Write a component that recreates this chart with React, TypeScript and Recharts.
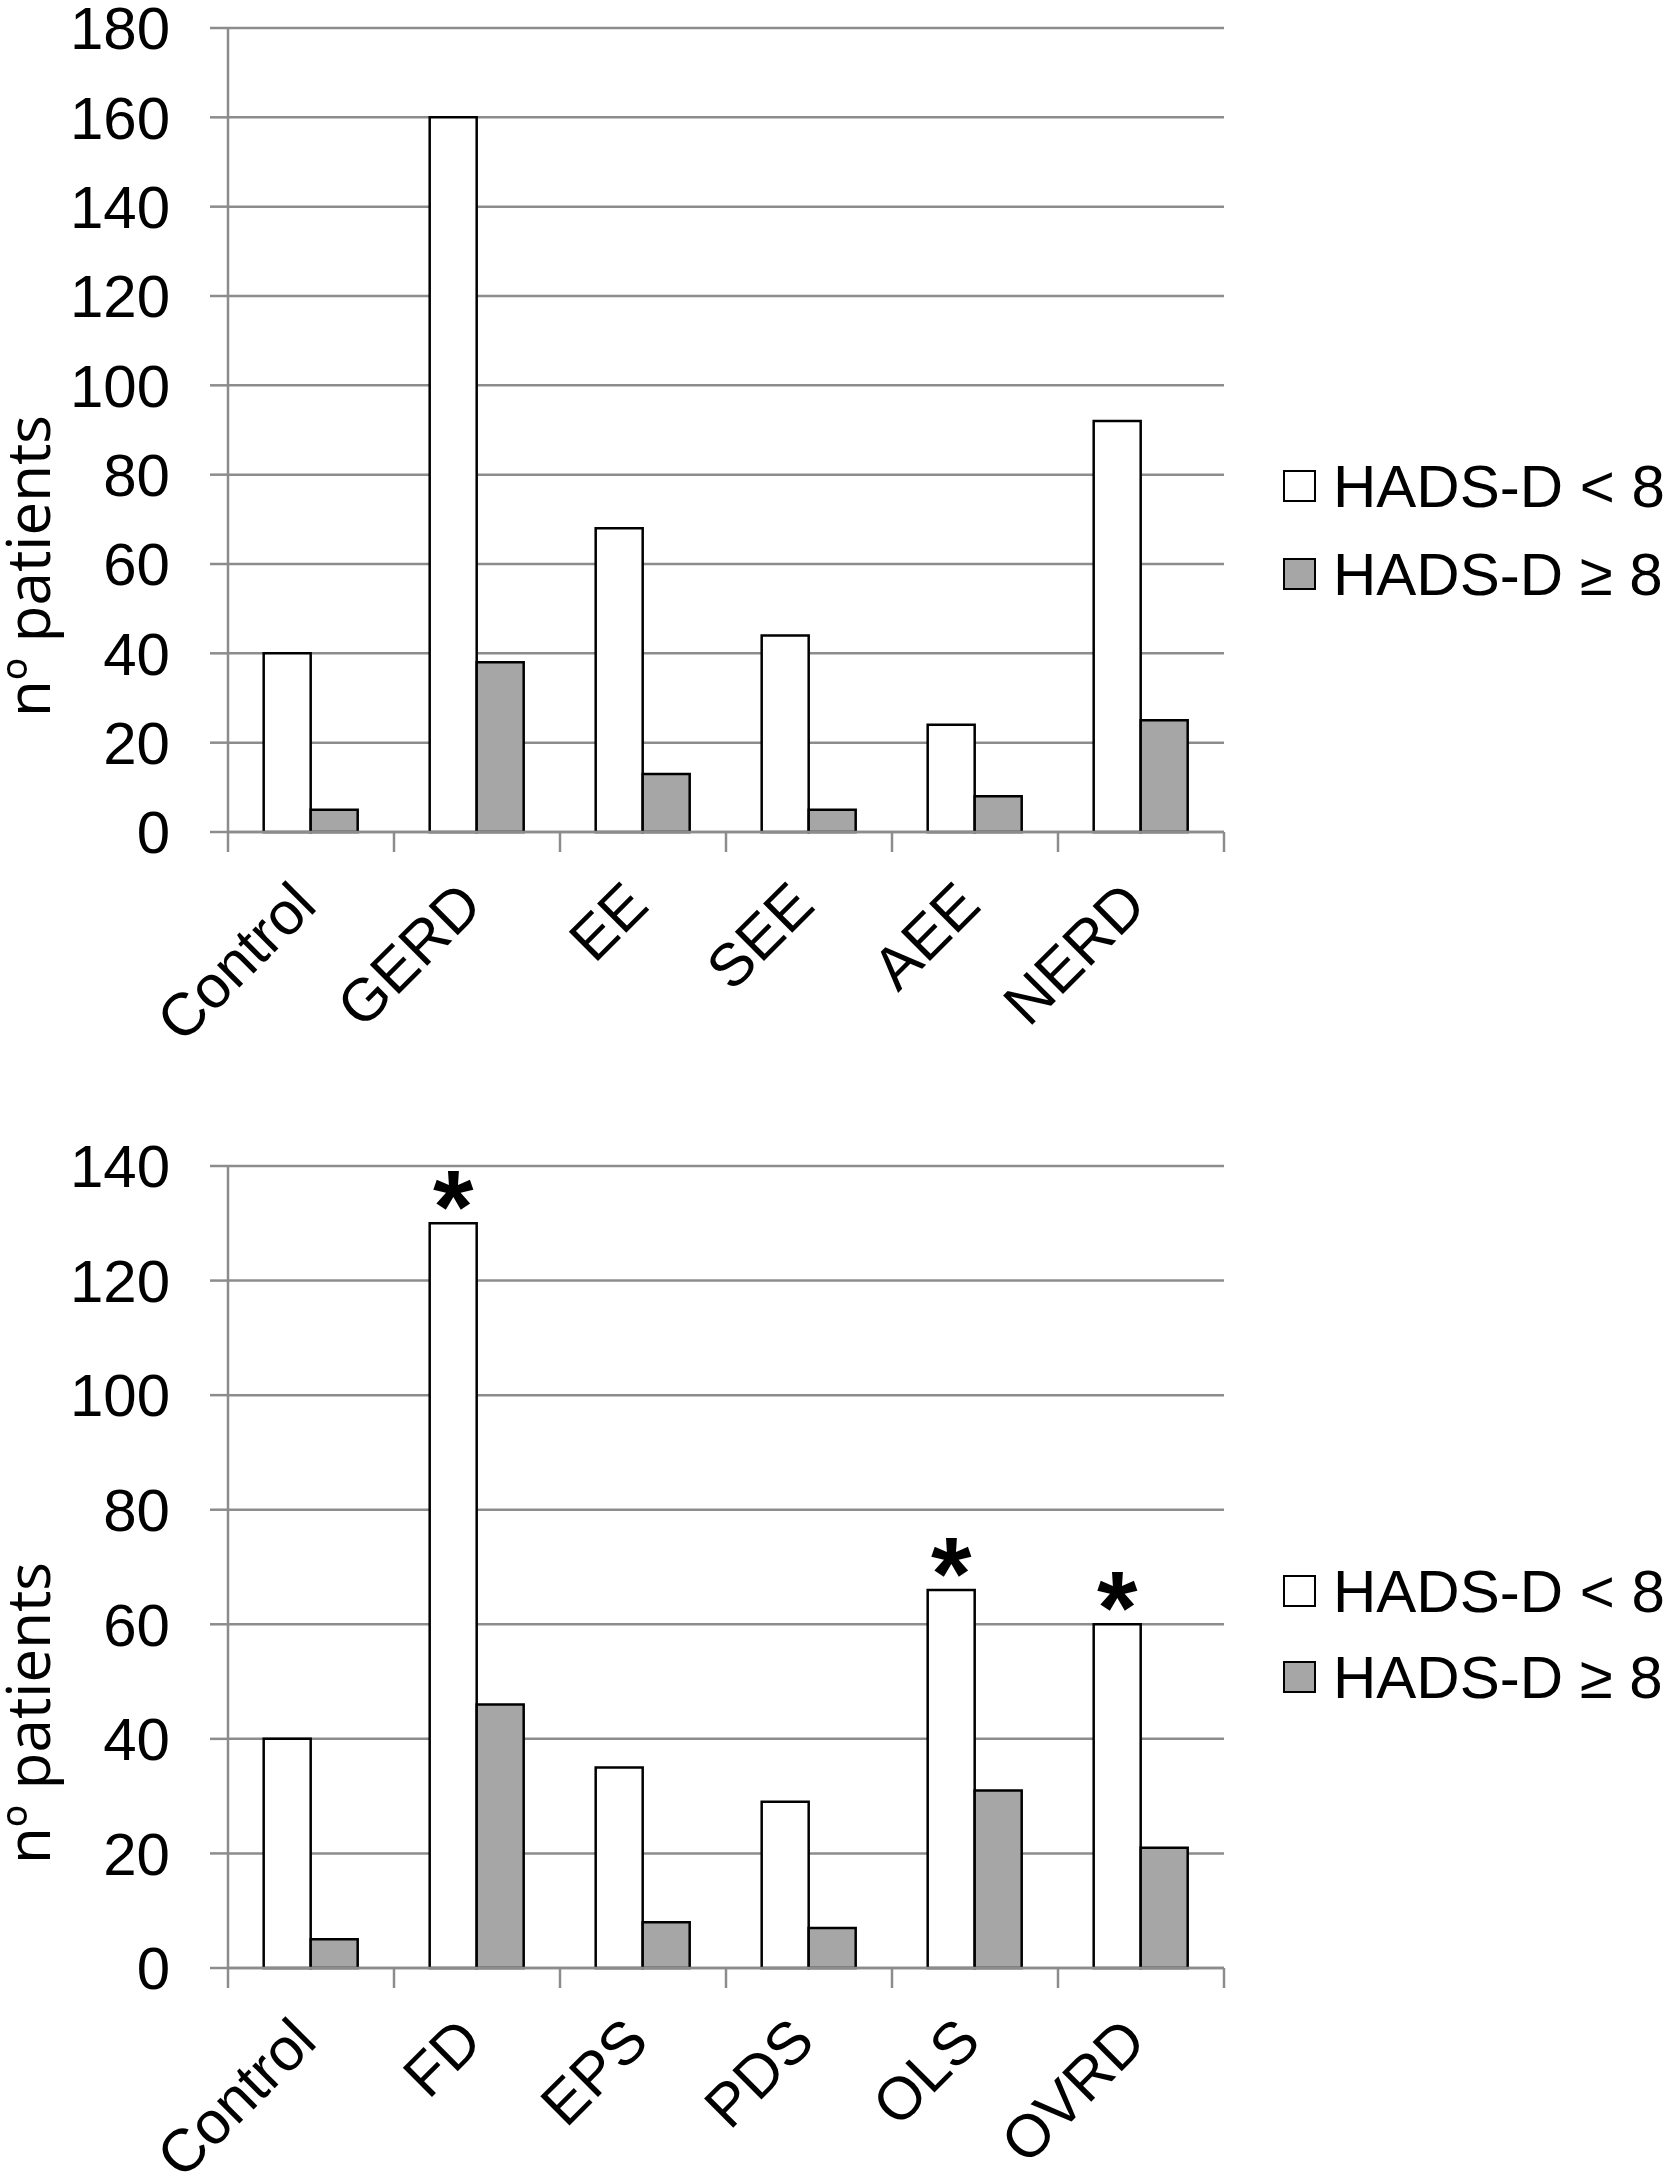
import { BarChart, Bar, XAxis, YAxis, CartesianGrid, Legend, LabelList } from "recharts";

const gerdGroups = ["Control", "GERD", "EE", "SEE", "AEE", "NERD"];
const gerdLow = [40, 160, 68, 44, 24, 92];
const gerdHigh = [5, 38, 13, 5, 8, 25];
const gerdTicks = [0, 20, 40, 60, 80, 100, 120, 140, 160, 180];

const fdGroups = ["Control", "FD", "EPS", "PDS", "OLS", "OVRD"];
const fdLow = [40, 130, 35, 29, 66, 60];
const fdHigh = [5, 46, 8, 7, 31, 21];
const fdStarred = [false, true, false, false, true, true];
const fdTicks = [0, 20, 40, 60, 80, 100, 120, 140];

const seriesNames = ["HADS-D < 8", "HADS-D ≥ 8"];

const GRID = "#8c8c8c";
const GREY = "#a6a6a6";
const FONT = "'Liberation Sans', Arial, sans-serif";
const WIDTH = 1675;
const AXIS_W = 228;
const RIGHT = 451;
const PLOT_W = WIDTH - AXIS_W - RIGHT;

function makeTick(count: number) {
  const band = PLOT_W / count;
  return (props: any) => {
    const { x, y, payload, index } = props;
    const tx = x + 8;
    const ty = y + 76;
    return (
      <g>
        <line x1={x - band / 2} x2={x - band / 2} y1={y} y2={y + 20} stroke={GRID} strokeWidth={2.5} />
        {index === count - 1 && (
          <line x1={x + band / 2} x2={x + band / 2} y1={y} y2={y + 20} stroke={GRID} strokeWidth={2.5} />
        )}
        <text
          x={tx}
          y={ty}
          transform={`rotate(-45, ${tx}, ${ty})`}
          textAnchor="end"
          fontSize={60}
          fontFamily={FONT}
          fill="#000"
        >
          {payload.value}
        </text>
      </g>
    );
  };
}

function yLabel(cy: number) {
  return () => (
    <text
      x={50}
      y={cy}
      transform={`rotate(-90, 50, ${cy})`}
      textAnchor="middle"
      fontSize={60}
      fontFamily="'Open Sans', sans-serif"
      fill="#000"
    >
      nº patients
    </text>
  );
}

function legendContent(rowH: number) {
  return () => (
    <div style={{ fontFamily: FONT, fontSize: 60, color: "#000" }}>
      {seriesNames.map((name, i) => (
        <div key={name} style={{ display: "flex", alignItems: "center", height: rowH, whiteSpace: "nowrap" }}>
          <span
            style={{
              display: "inline-block",
              width: 29,
              height: 28,
              border: "2px solid #000",
              background: i === 0 ? "#fff" : GREY,
              marginRight: 17,
            }}
          />
          <span>{name}</span>
        </div>
      ))}
    </div>
  );
}

const StarLabel = (props: any) => {
  const { x, y, width, value } = props;
  if (!value) return null;
  return (
    <text x={x + width / 2} y={y + 20} textAnchor="middle" fontSize={104} fontWeight="bold" fontFamily={FONT} fill="#000">
      *
    </text>
  );
};

function Panel({
  groups,
  low,
  high,
  starred,
  ticks,
  height,
  top,
  xAxisH,
  labelY,
  legendTop,
  rowH,
}: {
  groups: string[];
  low: number[];
  high: number[];
  starred?: boolean[];
  ticks: number[];
  height: number;
  top: number;
  xAxisH: number;
  labelY: number;
  legendTop: number;
  rowH: number;
}) {
  const data = groups.map((name, i) => ({
    name,
    low: low[i],
    high: high[i],
    star: starred ? starred[i] : false,
  }));
  return (
    <BarChart
      width={WIDTH}
      height={height}
      data={data}
      margin={{ top, right: RIGHT, bottom: 0, left: 0 }}
      barCategoryGap="21.5%"
      barGap={0}
    >
      <CartesianGrid vertical={false} stroke={GRID} strokeWidth={2.5} />
      <XAxis
        dataKey="name"
        height={xAxisH}
        axisLine={{ stroke: GRID, strokeWidth: 2.5 }}
        tickLine={false}
        tickSize={0}
        tickMargin={0}
        interval={0}
        tick={makeTick(groups.length)}
      />
      <YAxis
        width={AXIS_W}
        domain={[0, ticks[ticks.length - 1]]}
        ticks={ticks}
        interval={0}
        axisLine={{ stroke: GRID, strokeWidth: 2.5 }}
        tickLine={{ stroke: GRID, strokeWidth: 2.5 }}
        tickSize={18}
        tickMargin={40}
        tick={{ fontSize: 60, fontFamily: FONT, fill: "#000" }}
        label={{ value: "nº patients", content: yLabel(labelY) }}
      />
      <Legend
        layout="vertical"
        align="center"
        verticalAlign="middle"
        wrapperStyle={{ left: 1283, top: legendTop, width: 392, height: rowH * 2 }}
        content={legendContent(rowH)}
      />
      <Bar dataKey="low" name={seriesNames[0]} fill="#fff" stroke="#000" strokeWidth={2.5} isAnimationActive={false}>
        <LabelList dataKey="star" content={StarLabel} />
      </Bar>
      <Bar dataKey="high" name={seriesNames[1]} fill={GREY} stroke="#000" strokeWidth={2.5} isAnimationActive={false} />
    </BarChart>
  );
}

export default function App() {
  return (
    <div style={{ position: "absolute", left: 0, top: 0, width: WIDTH, height: 2183, background: "#fff" }}>
      <div style={{ position: "absolute", left: 0, top: 0 }}>
        <Panel
          groups={gerdGroups}
          low={gerdLow}
          high={gerdHigh}
          ticks={gerdTicks}
          height={1120}
          top={28}
          xAxisH={288}
          labelY={566}
          legendTop={442}
          rowH={88}
        />
      </div>
      <div style={{ position: "absolute", left: 0, top: 1120 }}>
        <Panel
          groups={fdGroups}
          low={fdLow}
          high={fdHigh}
          starred={fdStarred}
          ticks={fdTicks}
          height={1063}
          top={46}
          xAxisH={215}
          labelY={593}
          legendTop={428}
          rowH={86}
        />
      </div>
    </div>
  );
}
